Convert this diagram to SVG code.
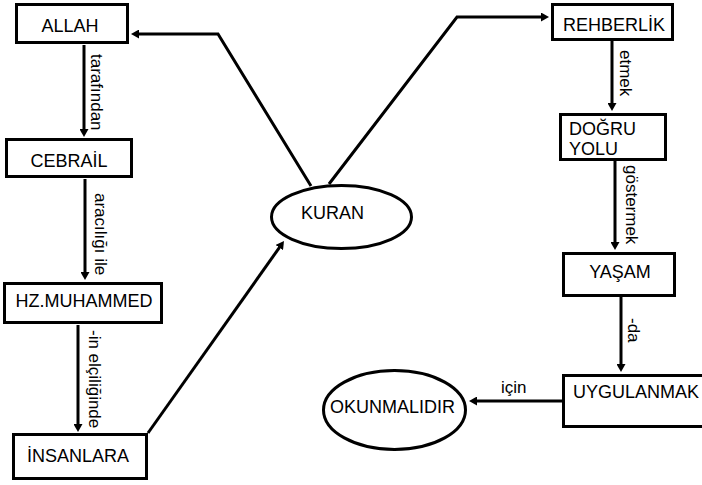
<svg xmlns="http://www.w3.org/2000/svg" width="702" height="485" viewBox="0 0 702 485">
<style>
  .box{fill:#fff;stroke:#000;stroke-width:3}
  .t{font-family:"Liberation Sans",Arial,sans-serif;font-size:18px;fill:#000}
  .lbl{font-family:"Liberation Sans",Arial,sans-serif;font-size:17px;fill:#000}
  .c{fill:none;stroke:#000;stroke-width:3}
  .m{text-anchor:middle}
</style>
<defs>
  <marker id="ah" markerUnits="userSpaceOnUse" viewBox="0 0 8 9" markerWidth="8" markerHeight="9" refX="3" refY="4.5" orient="auto">
    <path d="M0,0 L8,4.5 L0,9 z" fill="#000"/>
  </marker>
</defs>
<rect width="702" height="485" fill="#fff"/>
<g id="connectors">
  <polyline class="c" points="311,186 218,34 136,34" marker-end="url(#ah)"/>
  <polyline class="c" points="329,184 457,17 544,17" marker-end="url(#ah)"/>
  <line class="c" x1="84" y1="45" x2="84" y2="132" marker-end="url(#ah)"/>
  <line class="c" x1="85" y1="179" x2="85" y2="275" marker-end="url(#ah)"/>
  <line class="c" x1="78" y1="325" x2="78" y2="427" marker-end="url(#ah)"/>
  <line class="c" x1="148" y1="433" x2="281.1" y2="245.1" marker-end="url(#ah)"/>
  <line class="c" x1="612" y1="41" x2="612" y2="106" marker-end="url(#ah)"/>
  <line class="c" x1="615" y1="161" x2="615" y2="245" marker-end="url(#ah)"/>
  <line class="c" x1="621" y1="297" x2="621" y2="367" marker-end="url(#ah)"/>
  <line class="c" x1="562" y1="401" x2="474" y2="401" marker-end="url(#ah)"/>
  <text class="lbl" x="91" y="54" transform="rotate(90 91 54)">tarafından</text>
  <text class="lbl" x="95" y="193" transform="rotate(90 95 193)">aracılığı ile</text>
  <text class="lbl" x="89" y="330" transform="rotate(90 89 330)">-in elçiliğinde</text>
  <text class="lbl" x="620" y="50" transform="rotate(90 620 50)">etmek</text>
  <text class="lbl" x="626" y="165" transform="rotate(90 626 165)">göstermek</text>
  <text class="lbl" x="628" y="318" transform="rotate(90 628 318)">-da</text>
  <text class="lbl" x="501" y="393">için</text>
</g>
<g id="allah"><rect class="box" x="16.5" y="4.5" width="111" height="38"/><text class="t m" x="70" y="32">ALLAH</text></g>
<g id="cebrail"><rect class="box" x="6.5" y="139.5" width="125" height="37"/><text class="t m" x="69" y="167">CEBRAİL</text></g>
<g id="muhammed"><rect class="box" x="4.5" y="283.5" width="157" height="39"/><text class="t m" x="84" y="307">HZ.MUHAMMED</text></g>
<g id="insanlara"><rect class="box" x="13.5" y="434.5" width="133" height="44"/><text class="t m" x="78" y="462">İNSANLARA</text></g>
<g id="kuran"><ellipse class="box" cx="341.5" cy="217" rx="70" ry="31.5"/><text class="t m" x="332.5" y="219">KURAN</text></g>
<g id="rehberlik"><rect class="box" x="552.5" y="4.5" width="120" height="35"/><text class="t" x="563" y="31">REHBERLİK</text></g>
<g id="dogru-yolu"><rect class="box" x="560.5" y="114.5" width="105" height="45"/><text class="t" x="569" y="135">DOĞRU</text><text class="t" x="569" y="155">YOLU</text></g>
<g id="yasam"><rect class="box" x="563.5" y="253.5" width="111" height="42"/><text class="t m" x="620" y="278">YAŞAM</text></g>
<g id="uygulanmak"><rect class="box" x="563.5" y="375.5" width="150" height="51"/><text class="t" x="573" y="398">UYGULANMAK</text></g>
<g id="okunmalidir"><ellipse class="box" cx="394.5" cy="410" rx="71" ry="39.5"/><text class="t m" x="392.5" y="413">OKUNMALIDIR</text></g>
</svg>
